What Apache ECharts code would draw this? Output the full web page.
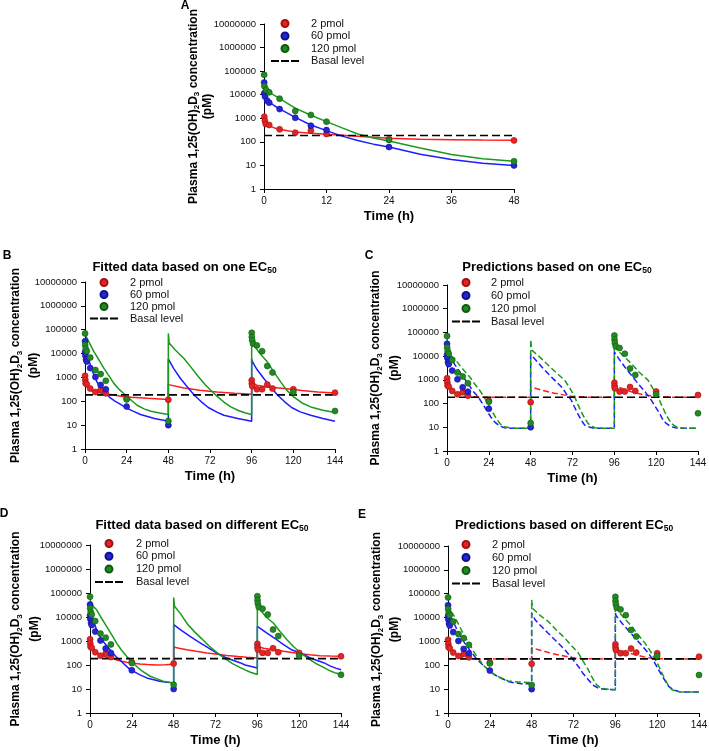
<!DOCTYPE html>
<html><head><meta charset="utf-8">
<script src="https://cdn.jsdelivr.net/npm/echarts@6/dist/echarts.min.js"></script>
<style>html,body{margin:0;padding:0;background:#fff}#c{width:709px;height:751px}</style>
</head><body><div id="c"></div>
<script>
// ---------------- data ----------------
const doseNames = ['2 pmol', '60 pmol', '120 pmol'];
const basalName = 'Basal level';
const basalLevel = 185;
const yTicks = [1, 10, 100, 1000, 10000, 100000, 1000000, 10000000];

// observed plasma concentrations [time h, pM]
const obs2pmol = [[0.05,1170],[0.17,790],[0.33,575],[1,520],[3,340],[6,245],[9,300],[12,215],[24,130],[48,115],
  [96.03,760],[96.1,550],[96.3,440],[99,320],[102,320],[105,500],[108,340],[120,320],[144,230]];
const obs60pmol = [[0.03,33000],[0.05,11500],[0.2,8300],[0.6,5600],[1,4600],[3,2460],[6,1050],[9,485],[12,317],[24,60],[48,10]];
const obs120pmol = [[0.03,70000],[0.083,23000],[0.4,16000],[1,12600],[3,6800],[6,2040],[9,1380],[12,720],[24,120],[48,15],
  [96.03,74000],[96.1,50000],[96.3,36000],[96.8,26000],[99,22000],[102,12600],[105,3000],[108,1600],[120,245],[144,39]];

// panel A: single-dose fits
const fitA2 = [[0,1150],[0.3,750],[1,480],[2,390],[3,340],[4.5,295],[6,265],[9,232],[12,210],[15,190],[18,172],[21,155],[24,142],[30,130],[36,124],[42,120],[48,117]];
const fitA60 = [[0,12000],[0.5,6500],[1,5000],[2,3400],[3,2500],[4.5,1650],[6,1100],[9,520],[12,300],[15,175],[18,115],[21,80],[24,60],[30,30],[36,18],[42,12.5],[48,10]];
const fitA120 = [[0,17000],[1,12500],[2,9300],[3,7000],[4.5,4300],[6,2700],[9,1350],[12,720],[15,390],[18,215],[21,145],[24,108],[30,55],[36,29],[42,19],[48,15]];

// panel B: fitted, one EC50
const fitB2 = [[0,1200],[0.3,700],[1.3,400],[3,300],[5,250],[11,210],[18,175],[24,150],[36,133],[48,120],[48,500],[57,360],[66,290],[76,245],[86,215],[96,195],
  [96,900],[97,560],[99,470],[105,400],[115,340],[125,285],[134,245],[144,225]];
const fitB60 = [[0,36000],[1.3,8500],[4,2000],[7,620],[11,245],[14,150],[17,105],[20,78],[24,52],[28,38],[32,28],[40,19],[48,14.5],
  [48,6000],[48.5,5000],[51,2400],[55,900],[59,400],[63,180],[67,95],[71,55],[76,35],[80,26],[88,19],[96,14.5],
  [96,6000],[96.5,4500],[99,2200],[103,900],[107,400],[111,180],[115,95],[119,55],[124,36],[130,26],[137,19],[144,14.5]];
const fitB120 = [[0,65000],[2,33000],[5.2,11700],[8,5500],[11,2340],[14,1100],[16.7,550],[20,300],[23.4,178],[27,105],[30,68],[34,48],[38,38],[43,32],[48,28],
  [48,70000],[48.5,28000],[52,14000],[57,6200],[61,2700],[65,1150],[69,520],[72.4,290],[76,165],[80,93],[84,58],[88,42],[92,33],[96,28],
  [96,70000],[96.5,30000],[97.3,22000],[101,9500],[105,4500],[109,1600],[112.7,650],[116,300],[120.4,150],[125,85],[130,58],[137,42],[144,34]];

// panel C: predictions, one EC50
const predC2 = [[0,1150],[0.5,700],[1,520],[2.5,370],[5,280],[8.2,230],[14,195],[20,185],[48,183],[48,510],[54,370],[61.8,270],[71.3,205],[80.9,185],[96,183],
  [96,1000],[96.7,650],[98,510],[101,420],[105.7,316],[113.4,230],[121,195],[130,185],[144,183]];
const predC60 = [[0,30000],[1,14000],[2,9000],[4.4,4500],[8,1800],[12,710],[15,330],[17.8,195],[20,110],[22.6,54],[25,28],[27.3,17],[30,11.5],[33,9.5],[38,9],[48,9],
  [48,12000],[48.6,11000],[52,5500],[56,2570],[61,1100],[65.6,510],[69,230],[71.3,140],[73,75],[75,38],[77,20],[79,12.4],[82,10],[85,9],[96,9],
  [96,15000],[96.5,13000],[99,7000],[102,3500],[106,1500],[109.6,700],[114,290],[117.2,140],[119.5,75],[122,38],[124,20],[125.8,14.5],[128,11],[131,9.5],[135,9],[144,9]];
const predC120 = [[0,60000],[0.5,25000],[1,14000],[2.5,10000],[4.4,7900],[8,3500],[13,1350],[16,650],[18.7,370],[21,200],[23.5,100],[26,45],[28.3,23],[30.5,14],[33,10.5],[36,9.5],[40,9],[48,9],
  [48,50000],[48.6,18000],[53,9500],[58,4200],[63,1900],[67.5,970],[70.5,450],[73.2,195],[75,95],[77,45],[79,24],[80.9,14.5],[83,11],[85,9.6],[88,9],[96,9],
  [96,50000],[96.6,22000],[101,10500],[105.7,4900],[110,2200],[115.3,970],[118,450],[121,195],[123,90],[124.9,45],[127,23],[128.7,14.5],[131,11],[133.5,9.6],[137,9],[144,9]];

// panel D: fitted, different EC50
const fitD2 = [[0,1120],[0.5,700],[1.9,440],[3.5,340],[5.7,270],[9,215],[13.4,178],[17,150],[21,129],[25,117],[28.7,110],[33,104],[38.3,101],[43,103],[48,108],
  [48,560],[51,500],[55.5,435],[61,370],[67,315],[72,285],[78.5,250],[85,225],[90,208],[96,195],
  [96,600],[97,560],[99.6,500],[105,430],[111,370],[116,330],[120.6,295],[126,265],[132,245],[138,236],[144,230]];
const fitD60 = [[0,27500],[1,13000],[1.9,7600],[3.5,3300],[5.7,1550],[8.5,780],[11.5,435],[15,220],[19,120],[22,75],[25,54],[29,38],[32.6,29],[36,25],[40,21],[44,19],[48,18],
  [48,4800],[48.5,4700],[52,2900],[57.4,1550],[62,950],[66,630],[70,420],[74,280],[78,200],[82,158],[86,125],[89,100],[92,88],[96,75],
  [96,4100],[96.5,4000],[101.5,2140],[106,1300],[111,700],[116,420],[121.6,300],[126,200],[130,158],[134,125],[138,90],[141,74],[144,63]];
const fitD120 = [[0,50000],[1,35000],[2,27000],[3.8,20000],[6,10500],[9.6,4000],[12.5,1800],[15.3,820],[18,420],[21,230],[24,135],[26.8,87],[30,55],[34.5,34],[38,27],[42,21],[48,18],
  [48,65000],[48.5,28000],[52,13500],[56,5000],[60,2400],[64,1260],[68,650],[74,280],[78,170],[82,112],[86,80],[89,63],[92,50],[96,40],
  [96,55000],[96.5,30000],[97.7,20000],[101,10000],[105.3,5500],[109,2500],[113,1120],[117,560],[121,316],[125,190],[130,112],[134,80],[138,56],[141,46],[144,40]];

// panel E: predictions, different EC50
const predE2 = [[0,1000],[0.5,650],[1.2,450],[2.9,325],[5,260],[7.7,220],[10.5,200],[13.4,187],[20,185],[48,184],
  [48,540],[48.9,520],[52,450],[55.6,380],[60,310],[65.2,257],[69,225],[72.9,200],[78,190],[84,186],[96,184],
  [96,850],[96.8,560],[97.8,450],[101,380],[105.5,302],[109,260],[113,220],[116,200],[118.9,190],[125,186],[144,184]];
const predE60 = [[0,29000],[1,15000],[2,9000],[3.8,5000],[6.5,2000],[9.6,850],[12.5,430],[15.3,235],[18,140],[21,89],[24,57],[26.8,40],[30,30],[34.5,21],[38,18.5],[42,17],[48,17],
  [48,15000],[48.5,13000],[50,8000],[53.5,4300],[57.5,2200],[62,1050],[67,450],[71,200],[74.8,89],[77.5,45],[80.5,25],[83,15],[86.3,11],[90,9.8],[96,9.5],
  [96,15000],[96.5,12000],[99.7,5900],[103.5,2900],[107.4,1380],[111,700],[115,325],[118,150],[120.8,65],[123.5,30],[126.6,13],[129,9.5],[132.3,8],[136,7.6],[144,7.5]];
const predE120 = [[0,40000],[1,25000],[2,17000],[3.8,11000],[6.5,4500],[9.6,1600],[12.5,720],[15.3,325],[18,165],[21,89],[24,57],[26.8,40],[30,30],[34.5,22],[40,20],[48,19],
  [48,55000],[48.6,24000],[49,21000],[53,12000],[57.5,6900],[62,3100],[67,1380],[71,650],[74.8,325],[77.5,150],[80.5,65],[83,28],[85.3,15],[88,11],[92,9.8],[96,9.5],
  [96,55000],[96.6,25000],[97.8,18000],[101.5,8700],[105.5,4200],[109,1900],[113,850],[116,400],[119,170],[121.5,75],[123.7,34],[126,16],[128.5,9.5],[131,8.2],[134.2,7.6],[144,7.5]];

// ---------------- layout / style ----------------
const FONT = '"Liberation Sans", Arial, Helvetica, sans-serif';
const lineColors = ['#ff1c1c', '#1c1cff', '#1a9a1a'];
const dotColors = ['#e32424', '#2424dc', '#228a22'];
const dotBorders = ['#a31010', '#10108a', '#0f5a0f'];

const panels = [
  {letter:'A', title:null, xMax:48, xInt:12, curves:[fitA2, fitA60, fitA120], dashed:false,
   grid:{left:264, top:24, width:250, height:165}, legend:{left:271, top:18, gap:1.5, pad:7},
   ytitle:[193.5, 208], letterPos:[185, 6]},
  {letter:'B', title:'Fitted data based on one EC{s|50}', xMax:144, xInt:24, curves:[fitB2, fitB60, fitB120], dashed:false,
   grid:{left:85, top:282, width:250, height:167}, legend:{left:90, top:277, gap:1, pad:7},
   ytitle:[16, 34], titlePos:[184.5, 267], letterPos:[7, 256]},
  {letter:'C', title:'Predictions based on one EC{s|50}', xMax:144, xInt:24, curves:[predC2, predC60, predC120], dashed:true,
   grid:{left:447, top:285, width:251, height:166}, legend:{left:452, top:277, gap:2, pad:6},
   ytitle:[376, 395], titlePos:[557, 267], letterPos:[369, 256]},
  {letter:'D', title:'Fitted data based on different EC{s|50}', xMax:144, xInt:24, curves:[fitD2, fitD60, fitD120], dashed:false,
   grid:{left:90, top:545, width:251, height:168}, legend:{left:95, top:538, gap:1.8, pad:8},
   ytitle:[16, 35], titlePos:[202, 525], letterPos:[4, 514]},
  {letter:'E', title:'Predictions based on different EC{s|50}', xMax:144, xInt:24, curves:[predE2, predE60, predE120], dashed:true,
   grid:{left:448, top:546, width:251, height:167}, legend:{left:452, top:539, gap:2, pad:7},
   ytitle:[377, 395], titlePos:[564, 525], letterPos:[362, 515]}
];
const observed = [obs2pmol, obs60pmol, obs120pmol];

const grids = [], xAxes = [], yAxes = [], series = [], legends = [], graphics = [];
const dashIcon = 'path://M0,0h8v2h-8zM10,0h8v2h-8zM20,0h8v2h-8z';
const subRich = {s: {fontSize: 8, fontWeight: 'bold', fontFamily: FONT, fill: '#000', verticalAlign: 'bottom', lineHeight: 15}};

panels.forEach((p, i) => {
  grids.push(Object.assign({outerBoundsMode: 'none', containLabel: false}, p.grid));
  xAxes.push({
    type: 'value', gridIndex: i, min: 0, max: p.xMax, interval: p.xInt,
    name: 'Time (h)', nameLocation: 'middle', nameGap: 21,
    nameTextStyle: {fontFamily: FONT, fontSize: 13, fontWeight: 'bold', color: '#000'},
    axisLine: {show: true, onZero: false, lineStyle: {color: '#000', width: 1}},
    axisTick: {show: true, inside: false, length: 4, lineStyle: {color: '#000'}},
    axisLabel: {fontFamily: FONT, fontSize: 10, color: '#111', margin: 7},
    splitLine: {show: false}
  });
  yAxes.push({
    type: 'log', logBase: 10, gridIndex: i, min: yTicks[0], max: yTicks[yTicks.length - 1], interval: 1, splitNumber: 7,
    axisLine: {show: true, onZero: false, lineStyle: {color: '#000', width: 1}},
    axisTick: {show: true, inside: false, length: 4, lineStyle: {color: '#000'}},
    axisLabel: {fontFamily: FONT, fontSize: 9.5, color: '#111', margin: 8, formatter: v => String(Math.round(v))},
    splitLine: {show: false}, minorTick: {show: false}
  });
  p.curves.forEach((c, k) => {
    series.push({
      type: 'line', name: 'curve' + p.letter + k, xAxisIndex: i, yAxisIndex: i, data: c,
      symbol: 'none', smooth: false, silent: true, z: 2,
      lineStyle: {color: lineColors[k], width: 1.5, type: p.dashed ? [6, 3] : 'solid'},
      itemStyle: {color: lineColors[k]}
    });
  });
  series.push({
    type: 'line', name: basalName, xAxisIndex: i, yAxisIndex: i,
    data: [[0, basalLevel], [p.xMax, basalLevel]], symbol: 'none', silent: true, z: 3,
    color: '#000', itemStyle: {color: '#000'},
    lineStyle: {color: '#000', width: 1.6, type: [8, 4]}
  });
  observed.forEach((o, k) => {
    series.push({
      type: 'scatter', name: doseNames[k], xAxisIndex: i, yAxisIndex: i,
      data: o.filter(d => d[0] <= p.xMax), symbol: 'circle', symbolSize: 6, z: 4 + k,
      itemStyle: {color: dotColors[k], borderColor: dotBorders[k], borderWidth: 0.6, opacity: 1}
    });
  });
  legends.push({
    left: p.legend.left, top: p.legend.top, orient: 'vertical', padding: 0,
    itemWidth: 28, itemHeight: 7, itemGap: p.legend.gap, selectedMode: false,
    symbolKeepAspect: true,
    textStyle: {fontFamily: FONT, fontSize: 11, color: '#111', lineHeight: 11, padding: [0, 0, 0, p.legend.pad]},
    data: [
      {name: doseNames[0], icon: 'circle'},
      {name: doseNames[1], icon: 'circle'},
      {name: doseNames[2], icon: 'circle'},
      {name: basalName, icon: dashIcon}
    ]
  });
  const yc = p.grid.top + p.grid.height / 2;
  graphics.push({
    type: 'text', x: p.ytitle[0], y: yc, rotation: Math.PI / 2, silent: true,
    style: {text: 'Plasma 1,25(OH){s|2}D{s|3} concentration', fontFamily: FONT, fontSize: 12, fontWeight: 'bold',
      fill: '#000', align: 'center', verticalAlign: 'middle', lineHeight: 15, rich: subRich}
  });
  graphics.push({
    type: 'text', x: p.ytitle[1], y: yc, rotation: Math.PI / 2, silent: true,
    style: {text: '(pM)', fontFamily: FONT, fontSize: 12, fontWeight: 'bold', fill: '#000', align: 'center', verticalAlign: 'middle'}
  });
  graphics.push({
    type: 'text', x: p.letterPos[0], y: p.letterPos[1], silent: true,
    style: {text: p.letter, fontFamily: FONT, fontSize: 12, fontWeight: 'bold', fill: '#000', align: 'center', verticalAlign: 'middle'}
  });
  if (p.title) {
    graphics.push({
      type: 'text', x: p.titlePos[0], y: p.titlePos[1], silent: true,
      style: {text: p.title, fontFamily: FONT, fontSize: 13, fontWeight: 'bold', fill: '#000', align: 'center', verticalAlign: 'middle',
        lineHeight: 17, rich: {s: {fontSize: 8.5, fontWeight: 'bold', fontFamily: FONT, fill: '#000', verticalAlign: 'bottom', lineHeight: 17}}}
    });
  }
});

const chart = echarts.init(document.getElementById('c'), null, {renderer: 'canvas'});
chart.setOption({
  animation: false,
  backgroundColor: '#fff',
  grid: grids, xAxis: xAxes, yAxis: yAxes, series: series, legend: legends,
  graphic: {elements: graphics}
});
</script>
</body></html>
